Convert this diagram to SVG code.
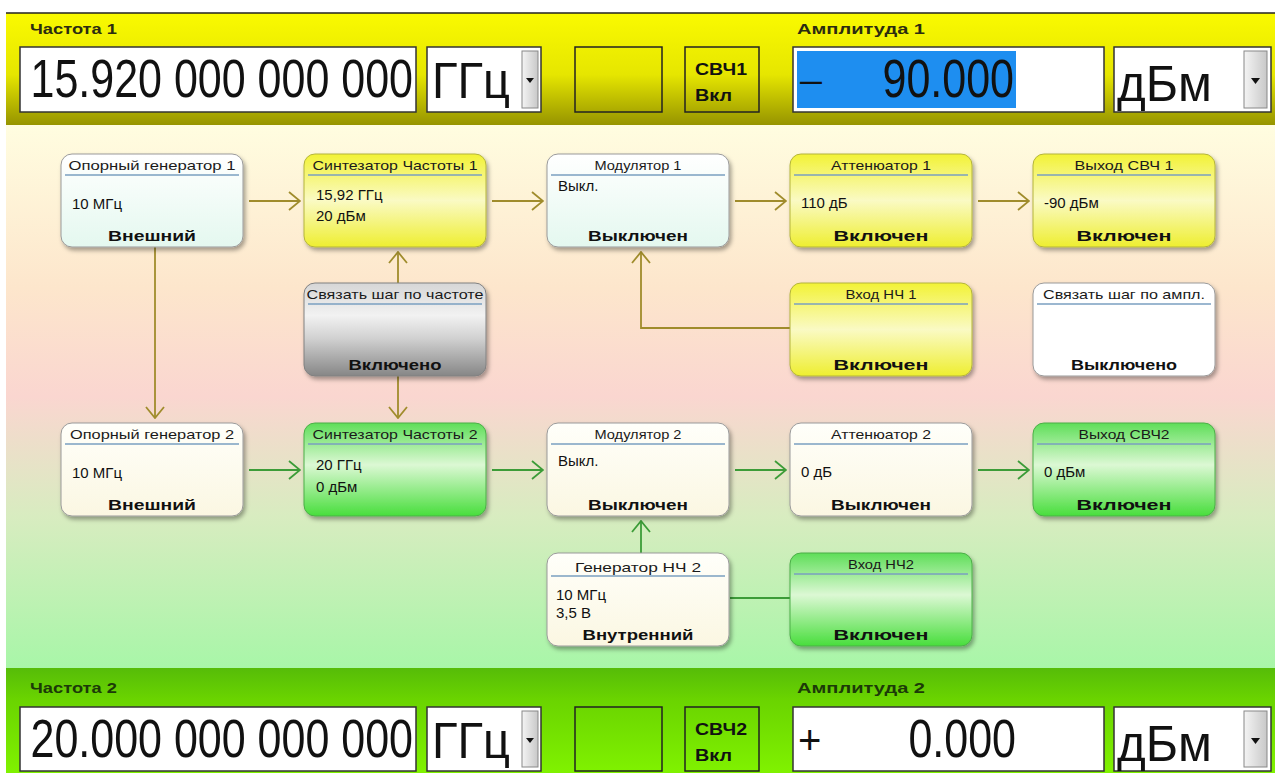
<svg xmlns="http://www.w3.org/2000/svg" width="1275" height="773" viewBox="0 0 1275 773">
<defs>
<linearGradient id="gTop" x1="0" y1="0" x2="0" y2="1">
<stop offset="0" stop-color="#fafa00"/><stop offset="0.55" stop-color="#e6e600"/><stop offset="1" stop-color="#969400"/>
</linearGradient>
<linearGradient id="gBot" x1="0" y1="0" x2="0" y2="1">
<stop offset="0" stop-color="#56bc08"/><stop offset="0.3" stop-color="#6ad400"/><stop offset="1" stop-color="#80f200"/>
</linearGradient>
<linearGradient id="gMid" x1="0" y1="0" x2="0" y2="1">
<stop offset="0" stop-color="#fffde0"/><stop offset="0.3" stop-color="#fde6cc"/><stop offset="0.5" stop-color="#fad6d0"/><stop offset="0.72" stop-color="#d8ecc0"/><stop offset="1" stop-color="#a8f6a8"/>
</linearGradient>
<linearGradient id="gW1" x1="0" y1="0" x2="0" y2="1"><stop offset="0" stop-color="#ffffff"/><stop offset="1" stop-color="#e4f8ef"/></linearGradient>
<linearGradient id="gW2" x1="0" y1="0" x2="0" y2="1"><stop offset="0" stop-color="#fffffa"/><stop offset="1" stop-color="#fbf7e2"/></linearGradient>
<linearGradient id="gY" x1="0" y1="0" x2="0" y2="1"><stop offset="0" stop-color="#f2f236"/><stop offset="0.5" stop-color="#fafac4"/><stop offset="1" stop-color="#eeee30"/></linearGradient>
<linearGradient id="gG" x1="0" y1="0" x2="0" y2="1"><stop offset="0" stop-color="#5ede58"/><stop offset="0.45" stop-color="#dcf8d4"/><stop offset="1" stop-color="#48de3c"/></linearGradient>
<linearGradient id="gGray" x1="0" y1="0" x2="0" y2="1"><stop offset="0" stop-color="#d6d6d6"/><stop offset="0.35" stop-color="#f2f2f2"/><stop offset="0.6" stop-color="#d0d0d0"/><stop offset="1" stop-color="#868686"/></linearGradient>
<linearGradient id="gBtn" x1="0" y1="0" x2="1" y2="0"><stop offset="0" stop-color="#f4f4f4"/><stop offset="1" stop-color="#c8c8c8"/></linearGradient>
<filter id="sh" x="-10%" y="-10%" width="130%" height="135%"><feDropShadow dx="2" dy="3" stdDeviation="2" flood-color="#000" flood-opacity="0.35"/></filter>
<marker id="aO" viewBox="0 0 13 20" refX="12" refY="10" markerWidth="13" markerHeight="20" markerUnits="userSpaceOnUse" orient="auto"><path d="M1,1 L12,10 L1,19" fill="none" stroke="#a08c2c" stroke-width="1.8"/></marker>
<marker id="aG" viewBox="0 0 13 20" refX="12" refY="10" markerWidth="13" markerHeight="20" markerUnits="userSpaceOnUse" orient="auto"><path d="M1,1 L12,10 L1,19" fill="none" stroke="#3c9c38" stroke-width="1.8"/></marker>
</defs>
<style>
.lbl{font-family:"Liberation Sans",Arial,sans-serif;font-weight:bold;font-size:15px}
.big{font-family:"Liberation Sans",Arial,sans-serif;font-size:43px;fill:#111;text-anchor:end}
.unit{font-family:"Liberation Sans",Arial,sans-serif;font-size:50px;fill:#111}
.fld{fill:#fff;stroke:#333;stroke-width:1.5}
.btn{fill:url(#gBtn);stroke:#888;stroke-width:1}
.box{fill:none;stroke:#222;stroke-width:1.5}
.sw{font-family:"Liberation Sans",Arial,sans-serif;font-weight:bold;font-size:17px;fill:#111}
.node{filter:url(#sh)}
.nr{stroke-width:1}
.ttl{font-family:"Liberation Sans Narrow","Liberation Sans",Arial,sans-serif;font-size:13px;fill:#1a1a1a;text-anchor:middle}
.sep{stroke:#7a9fc0;stroke-width:1.5}
.val{font-family:"Liberation Sans Narrow","Liberation Sans",Arial,sans-serif;font-size:15px;fill:#111}
.st{font-family:"Liberation Sans",Arial,sans-serif;font-weight:bold;font-size:15px;fill:#111;text-anchor:middle}
.cO{fill:none;stroke:#a08c2c;stroke-width:1.8}
.cG{fill:none;stroke:#3c9c38;stroke-width:1.8}
</style>
<rect x="0" y="0" width="1275" height="773" fill="#ffffff"/>
<!-- top bar -->
<g id="topbar">
<rect x="6" y="13" width="1269" height="112" fill="url(#gTop)"/>
<line x1="6" y1="13" x2="1275" y2="13" stroke="#222" stroke-width="1.5"/>
<text class="lbl" x="30" y="34" fill="#2c2c10" textLength="87" lengthAdjust="spacingAndGlyphs">Частота 1</text>
<text class="lbl" x="797" y="34" fill="#2c2c10" textLength="128" lengthAdjust="spacingAndGlyphs">Амплитуда 1</text>
<rect class="fld" x="20" y="47" width="396" height="65"/>
<text class="big" transform="translate(413,97) scale(1,1.25)">15.920 000 000 000</text>
<rect class="fld" x="427" y="47" width="114" height="65"/>
<text class="unit" x="432" y="98" textLength="78" lengthAdjust="spacingAndGlyphs">ГГц</text>
<rect class="btn" x="522" y="51" width="16" height="57"/>
<path d="M526,78 L534,78 L530,83 Z" fill="#111"/>
<rect class="box" x="575" y="47" width="87" height="65"/>
<rect class="box" x="685" y="47" width="74" height="65"/>
<text class="sw" x="695" y="75" textLength="52" lengthAdjust="spacingAndGlyphs">СВЧ1</text>
<text class="sw" x="695" y="101" textLength="37" lengthAdjust="spacingAndGlyphs">Вкл</text>
<rect class="fld" x="793" y="47" width="311" height="65"/>
<rect x="797" y="51" width="219" height="57" fill="#1e8ef0"/>
<text x="800" y="91" font-family="Liberation Sans, Arial, sans-serif" font-size="34" fill="#111" textLength="22" lengthAdjust="spacingAndGlyphs">–</text>
<text class="big" transform="translate(1014,97) scale(1,1.25)">90.000</text>
<rect class="fld" x="1114" y="47" width="157" height="65"/>
<text class="unit" x="1117" y="101" font-size="44" textLength="95" lengthAdjust="spacingAndGlyphs">дБм</text>
<rect class="btn" x="1244" y="51" width="23" height="57"/>
<path d="M1251,78 L1260,78 L1255.5,84 Z" fill="#111"/>
</g>
<!-- middle background -->
<rect x="6" y="125" width="1269" height="543" fill="url(#gMid)"/>
<!-- bottom bar -->
<g id="bottombar">
<rect x="6" y="668" width="1269" height="105" fill="url(#gBot)"/>
<text class="lbl" x="30" y="693" fill="#1c3a08" textLength="87" lengthAdjust="spacingAndGlyphs">Частота 2</text>
<text class="lbl" x="797" y="693" fill="#1c3a08" textLength="128" lengthAdjust="spacingAndGlyphs">Амплитуда 2</text>
<rect class="fld" x="20" y="707" width="396" height="64"/>
<text class="big" transform="translate(413,757) scale(1,1.25)">20.000 000 000 000</text>
<rect class="fld" x="427" y="707" width="114" height="64"/>
<text class="unit" x="432" y="758" textLength="78" lengthAdjust="spacingAndGlyphs">ГГц</text>
<rect class="btn" x="522" y="711" width="16" height="56"/>
<path d="M526,738 L534,738 L530,743 Z" fill="#111"/>
<rect class="box" x="575" y="707" width="87" height="64"/>
<rect class="box" x="685" y="707" width="74" height="64"/>
<text class="sw" x="695" y="735" textLength="52" lengthAdjust="spacingAndGlyphs">СВЧ2</text>
<text class="sw" x="695" y="761" textLength="37" lengthAdjust="spacingAndGlyphs">Вкл</text>
<rect class="fld" x="793" y="707" width="311" height="64"/>
<text x="798" y="754" font-family="Liberation Sans, Arial, sans-serif" font-size="40" fill="#111">+</text>
<text class="big" transform="translate(1016,757) scale(1,1.25)">0.000</text>
<rect class="fld" x="1114" y="707" width="157" height="64"/>
<text class="unit" x="1117" y="761" font-size="44" textLength="95" lengthAdjust="spacingAndGlyphs">дБм</text>
<rect class="btn" x="1244" y="711" width="23" height="56"/>
<path d="M1251,738 L1260,738 L1255.5,744 Z" fill="#111"/>
</g>
<!-- connectors -->
<g id="connectors">
<line class="cO" x1="249" y1="201" x2="300" y2="201" marker-end="url(#aO)"/>
<line class="cO" x1="492" y1="201" x2="543" y2="201" marker-end="url(#aO)"/>
<line class="cO" x1="735" y1="201" x2="786" y2="201" marker-end="url(#aO)"/>
<line class="cO" x1="978" y1="201" x2="1029" y2="201" marker-end="url(#aO)"/>
<line class="cO" x1="398" y1="283" x2="398" y2="252" marker-end="url(#aO)"/>
<line class="cO" x1="398" y1="376" x2="398" y2="418" marker-end="url(#aO)"/>
<polyline class="cO" points="790,328 641,328 641,252" marker-end="url(#aO)"/>
<line class="cO" x1="155" y1="247" x2="155" y2="418" marker-end="url(#aO)"/>
<line class="cG" x1="249" y1="470" x2="300" y2="470" marker-end="url(#aG)"/>
<line class="cG" x1="492" y1="470" x2="543" y2="470" marker-end="url(#aG)"/>
<line class="cG" x1="735" y1="470" x2="786" y2="470" marker-end="url(#aG)"/>
<line class="cG" x1="978" y1="470" x2="1029" y2="470" marker-end="url(#aG)"/>
<line class="cG" x1="641" y1="553" x2="641" y2="521" marker-end="url(#aG)"/>
<line class="cG" x1="730" y1="598" x2="790" y2="598"/>
</g>
<!-- row 1 -->
<g id="ref1">
<rect class="node nr" x="61" y="154" width="182" height="93" rx="11" fill="url(#gW1)" stroke="#9a9a9a"/>
<text class="ttl" x="152" y="170" textLength="167" lengthAdjust="spacingAndGlyphs">Опорный генератор 1</text>
<line class="sep" x1="65" y1="175" x2="239" y2="175"/>
<text class="val" x="72" y="209">10 МГц</text>
<text class="st" x="152" y="241" textLength="88" lengthAdjust="spacingAndGlyphs">Внешний</text>
</g>
<g id="synth1">
<rect class="node nr" x="304" y="154" width="182" height="93" rx="11" fill="url(#gY)" stroke="#b4b43c"/>
<text class="ttl" x="395" y="170" textLength="165" lengthAdjust="spacingAndGlyphs">Синтезатор Частоты 1</text>
<line class="sep" x1="308" y1="175" x2="482" y2="175"/>
<text class="val" x="316" y="200">15,92 ГГц</text>
<text class="val" x="316" y="221">20 дБм</text>
</g>
<g id="mod1">
<rect class="node nr" x="547" y="154" width="182" height="93" rx="11" fill="url(#gW1)" stroke="#9a9a9a"/>
<text class="ttl" x="638" y="170" textLength="87" lengthAdjust="spacingAndGlyphs">Модулятор 1</text>
<line class="sep" x1="551" y1="175" x2="725" y2="175"/>
<text class="val" x="558" y="191">Выкл.</text>
<text class="st" x="638" y="241" textLength="100" lengthAdjust="spacingAndGlyphs">Выключен</text>
</g>
<g id="att1">
<rect class="node nr" x="790" y="154" width="182" height="93" rx="11" fill="url(#gY)" stroke="#b4b43c"/>
<text class="ttl" x="881" y="170" textLength="100" lengthAdjust="spacingAndGlyphs">Аттенюатор 1</text>
<line class="sep" x1="794" y1="175" x2="968" y2="175"/>
<text class="val" x="801" y="208">110 дБ</text>
<text class="st" x="881" y="241" textLength="95" lengthAdjust="spacingAndGlyphs">Включен</text>
</g>
<g id="out1">
<rect class="node nr" x="1033" y="154" width="182" height="93" rx="11" fill="url(#gY)" stroke="#b4b43c"/>
<text class="ttl" x="1124" y="170" textLength="99" lengthAdjust="spacingAndGlyphs">Выход СВЧ 1</text>
<line class="sep" x1="1037" y1="175" x2="1211" y2="175"/>
<text class="val" x="1044" y="208">-90 дБм</text>
<text class="st" x="1124" y="241" textLength="95" lengthAdjust="spacingAndGlyphs">Включен</text>
</g>
<!-- row 1.5 -->
<g id="linkfreq">
<rect class="node nr" x="304" y="283" width="182" height="93" rx="11" fill="url(#gGray)" stroke="#808080"/>
<text class="ttl" x="395" y="299" textLength="177" lengthAdjust="spacingAndGlyphs">Связать шаг по частоте</text>
<line class="sep" x1="308" y1="304" x2="482" y2="304"/>
<text class="st" x="395" y="370" textLength="93" lengthAdjust="spacingAndGlyphs">Включено</text>
</g>
<g id="lfin1">
<rect class="node nr" x="790" y="283" width="182" height="93" rx="11" fill="url(#gY)" stroke="#b4b43c"/>
<text class="ttl" x="881" y="299" textLength="71" lengthAdjust="spacingAndGlyphs">Вход НЧ 1</text>
<line class="sep" x1="794" y1="304" x2="968" y2="304"/>
<text class="st" x="881" y="370" textLength="95" lengthAdjust="spacingAndGlyphs">Включен</text>
</g>
<g id="linkamp">
<rect class="node nr" x="1033" y="283" width="182" height="93" rx="11" fill="#ffffff" stroke="#9a9a9a"/>
<text class="ttl" x="1124" y="299" textLength="162" lengthAdjust="spacingAndGlyphs">Связать шаг по ампл.</text>
<line class="sep" x1="1037" y1="304" x2="1211" y2="304"/>
<text class="st" x="1124" y="370" textLength="106" lengthAdjust="spacingAndGlyphs">Выключено</text>
</g>
<!-- row 2 -->
<g id="ref2">
<rect class="node nr" x="61" y="423" width="182" height="93" rx="11" fill="url(#gW2)" stroke="#9a9a9a"/>
<text class="ttl" x="152" y="439" textLength="164" lengthAdjust="spacingAndGlyphs">Опорный генератор 2</text>
<line class="sep" x1="65" y1="444" x2="239" y2="444"/>
<text class="val" x="72" y="478">10 МГц</text>
<text class="st" x="152" y="510" textLength="88" lengthAdjust="spacingAndGlyphs">Внешний</text>
</g>
<g id="synth2">
<rect class="node nr" x="304" y="423" width="182" height="93" rx="11" fill="url(#gG)" stroke="#4cae48"/>
<text class="ttl" x="395" y="439" textLength="165" lengthAdjust="spacingAndGlyphs">Синтезатор Частоты 2</text>
<line class="sep" x1="308" y1="444" x2="482" y2="444"/>
<text class="val" x="316" y="470">20 ГГц</text>
<text class="val" x="316" y="492">0 дБм</text>
</g>
<g id="mod2">
<rect class="node nr" x="547" y="423" width="182" height="93" rx="11" fill="url(#gW2)" stroke="#9a9a9a"/>
<text class="ttl" x="638" y="439" textLength="87" lengthAdjust="spacingAndGlyphs">Модулятор 2</text>
<line class="sep" x1="551" y1="444" x2="725" y2="444"/>
<text class="val" x="558" y="466">Выкл.</text>
<text class="st" x="638" y="510" textLength="100" lengthAdjust="spacingAndGlyphs">Выключен</text>
</g>
<g id="att2">
<rect class="node nr" x="790" y="423" width="182" height="93" rx="11" fill="url(#gW2)" stroke="#9a9a9a"/>
<text class="ttl" x="881" y="439" textLength="100" lengthAdjust="spacingAndGlyphs">Аттенюатор 2</text>
<line class="sep" x1="794" y1="444" x2="968" y2="444"/>
<text class="val" x="801" y="477">0 дБ</text>
<text class="st" x="881" y="510" textLength="100" lengthAdjust="spacingAndGlyphs">Выключен</text>
</g>
<g id="out2">
<rect class="node nr" x="1033" y="423" width="182" height="93" rx="11" fill="url(#gG)" stroke="#4cae48"/>
<text class="ttl" x="1124" y="439" textLength="91" lengthAdjust="spacingAndGlyphs">Выход СВЧ2</text>
<line class="sep" x1="1037" y1="444" x2="1211" y2="444"/>
<text class="val" x="1044" y="477">0 дБм</text>
<text class="st" x="1124" y="510" textLength="95" lengthAdjust="spacingAndGlyphs">Включен</text>
</g>
<!-- row 3 -->
<g id="lfgen2">
<rect class="node nr" x="547" y="553" width="182" height="93" rx="11" fill="url(#gW2)" stroke="#9a9a9a"/>
<text class="ttl" x="638" y="572" font-size="16" textLength="126" lengthAdjust="spacingAndGlyphs">Генератор НЧ 2</text>
<line class="sep" x1="551" y1="576" x2="725" y2="576"/>
<text class="val" x="556" y="600">10 МГц</text>
<text class="val" x="556" y="618">3,5 В</text>
<text class="st" x="638" y="640" textLength="111" lengthAdjust="spacingAndGlyphs">Внутренний</text>
</g>
<g id="lfin2">
<rect class="node nr" x="790" y="553" width="182" height="93" rx="11" fill="url(#gG)" stroke="#4cae48"/>
<text class="ttl" x="881" y="569" textLength="66" lengthAdjust="spacingAndGlyphs">Вход НЧ2</text>
<line class="sep" x1="794" y1="574" x2="968" y2="574"/>
<text class="st" x="881" y="640" textLength="95" lengthAdjust="spacingAndGlyphs">Включен</text>
</g>
</svg>
